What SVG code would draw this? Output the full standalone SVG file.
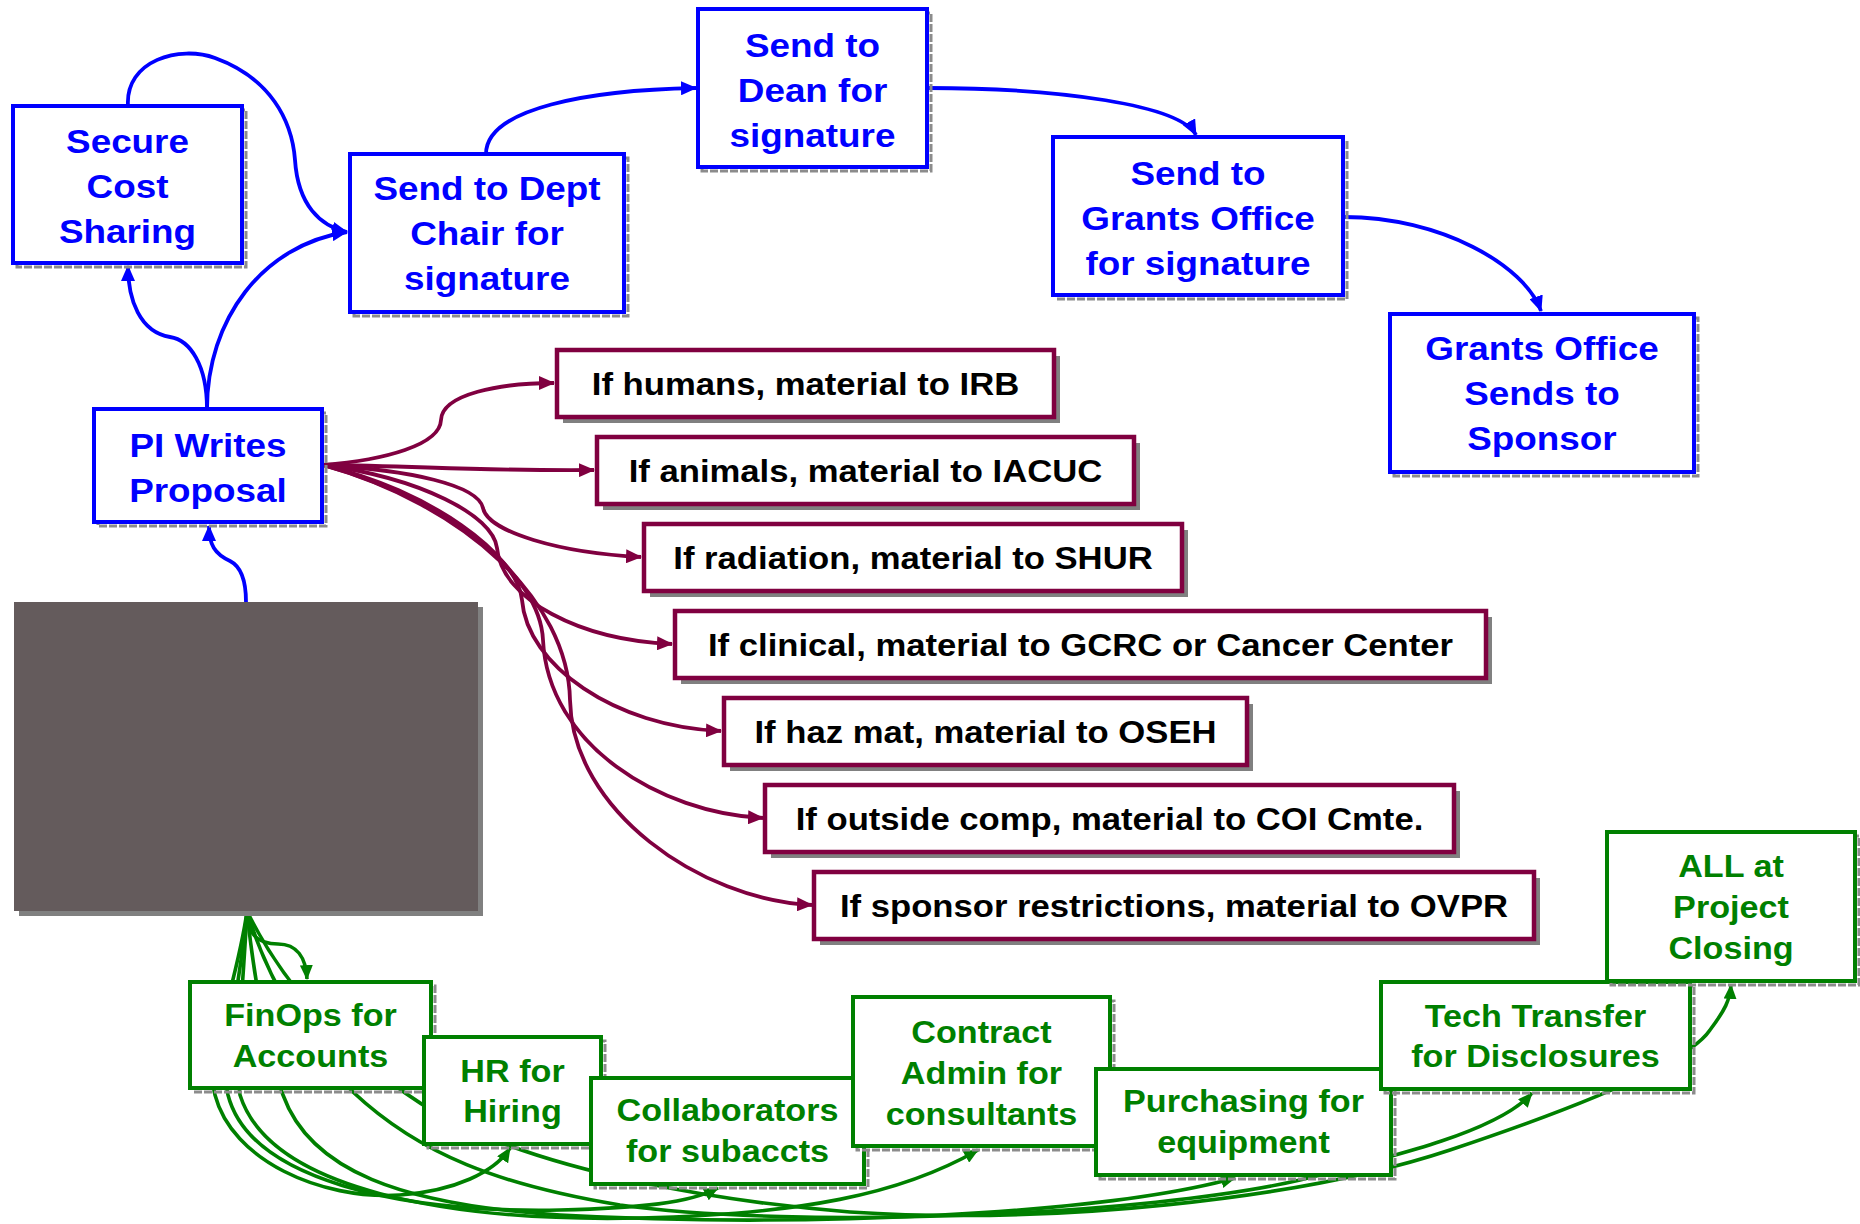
<svg xmlns="http://www.w3.org/2000/svg" width="1860" height="1224" viewBox="0 0 1860 1224">
<defs>
<style>
.bx{fill:#fff;stroke:#0000ff;stroke-width:4}
.mx{fill:#fff;stroke:#800040;stroke-width:4.5}
.gx{fill:#fff;stroke:#008000;stroke-width:4}
.sh{fill:none;stroke:#8c8c8c;stroke-width:3;stroke-dasharray:8 2}
.msh{fill:#808080}
.tb{font-family:"Liberation Sans",Arial,sans-serif;font-weight:bold;font-size:33.5px;fill:#0000ff;text-anchor:middle}
.tm{font-family:"Liberation Sans",Arial,sans-serif;font-weight:bold;font-size:31.5px;fill:#000;text-anchor:middle}
.tg{font-family:"Liberation Sans",Arial,sans-serif;font-weight:bold;font-size:30.5px;fill:#008000;text-anchor:middle}
.cb{fill:none;stroke:#0000ff;stroke-width:3.8;marker-end:url(#ab)}
.cm{fill:none;stroke:#800040;stroke-width:3.8;marker-end:url(#am)}
.cg{fill:none;stroke:#008000;stroke-width:3.6;marker-end:url(#ag)}
</style>
<marker id="ab" viewBox="0 0 16 14" refX="15" refY="7" markerWidth="16" markerHeight="14" markerUnits="userSpaceOnUse" orient="auto"><path d="M0,0 L16,7 L0,14 z" fill="#0000ff"/></marker>
<marker id="am" viewBox="0 0 16 14" refX="15" refY="7" markerWidth="16" markerHeight="14" markerUnits="userSpaceOnUse" orient="auto"><path d="M0,0 L16,7 L0,14 z" fill="#800040"/></marker>
<marker id="ag" viewBox="0 0 16 14" refX="15" refY="7" markerWidth="15" markerHeight="13" markerUnits="userSpaceOnUse" orient="auto"><path d="M0,0 L16,7 L0,14 z" fill="#008000"/></marker>
</defs>
<rect width="1860" height="1224" fill="#fff"/>

<g id="connectors">
<path class="cb" d="M207,409 C207,365 190,340 170,337 C140,332 128,300 128,266"/>
<path class="cb" d="M207,409 C207,320 262,245 347,232"/>
<path class="cb" d="M128,106 C125,60 180,45 215,58 C270,78 292,120 295,160 C298,205 320,226 347,232"/>
<path class="cb" d="M486,154 C486,108 590,90 696,88"/>
<path class="cb" d="M928,88 C1060,88 1180,105 1196,135"/>
<path class="cb" d="M1344,217 C1440,217 1525,265 1541,311"/>
<path class="cb" d="M246,602 C246,578 240,566 230,561 C215,554 209,545 209,526"/>
<path class="cm" d="M323,465 C385,460 440,445 441,420 C442,394 500,383 554,383"/>
<path class="cm" d="M323,465 C420,466 480,471 594,470"/>
<path class="cm" d="M323,465 C410,470 478,485 483,508 C488,532 560,553 641,557"/>
<path class="cm" d="M323,465 C420,478 493,515 497,548 C502,600 580,640 672,644"/>
<path class="cm" d="M323,465 C430,490 518,555 522,600 C527,665 615,727 721,731"/>
<path class="cm" d="M323,465 C450,500 540,575 543,640 C548,745 660,813 763,818"/>
<path class="cm" d="M323,465 C465,505 568,600 570,700 C572,810 700,900 812,905"/>
<path class="cg" d="M247,911 C247,935 258,944 278,944 C297,944 306,958 307,979"/>
<path class="cg" d="M247,911 C238,980 205,1060 215,1095 C232,1160 320,1200 400,1195 C455,1191 495,1172 510,1148"/>
<path class="cg" d="M247,911 C240,990 220,1060 228,1095 C250,1180 400,1213 560,1210 C640,1208 690,1203 718,1188"/>
<path class="cg" d="M247,911 C243,990 235,1060 240,1095 C270,1190 450,1222 640,1218 C800,1214 900,1195 978,1150"/>
<path class="cg" d="M247,911 C255,990 270,1060 283,1095 C310,1170 400,1205 560,1215 C800,1228 1100,1215 1235,1178"/>
<path class="cg" d="M247,911 C270,990 320,1060 353,1092 C420,1155 500,1185 620,1205 C800,1230 1150,1215 1300,1180 C1400,1155 1500,1130 1532,1093"/>
<path class="cg" d="M247,911 C290,1000 380,1090 470,1130 C560,1170 700,1200 850,1212 C1050,1225 1300,1200 1450,1150 C1600,1100 1690,1060 1710,1030 C1725,1010 1730,1000 1731,985"/>
</g>

<g id="node-secure">
<rect class="sh" x="17" y="110" width="229" height="157"/>
<rect class="bx" x="13" y="106" width="229" height="157"/>
<text class="tb" transform="translate(127.5 0) scale(1.1 1)"><tspan x="0" y="153">Secure</tspan><tspan x="0" y="198">Cost</tspan><tspan x="0" y="243">Sharing</tspan></text>
</g>
<g id="node-deptchair">
<rect class="sh" x="354" y="158" width="274" height="158"/>
<rect class="bx" x="350" y="154" width="274" height="158"/>
<text class="tb" transform="translate(487 0) scale(1.1 1)"><tspan x="0" y="200">Send to Dept</tspan><tspan x="0" y="245">Chair for</tspan><tspan x="0" y="290">signature</tspan></text>
</g>
<g id="node-dean">
<rect class="sh" x="702" y="13" width="229" height="158"/>
<rect class="bx" x="698" y="9" width="229" height="158"/>
<text class="tb" transform="translate(812.5 0) scale(1.1 1)"><tspan x="0" y="57">Send to</tspan><tspan x="0" y="102">Dean for</tspan><tspan x="0" y="147">signature</tspan></text>
</g>
<g id="node-grantssig">
<rect class="sh" x="1057" y="141" width="290" height="158"/>
<rect class="bx" x="1053" y="137" width="290" height="158"/>
<text class="tb" transform="translate(1198 0) scale(1.1 1)"><tspan x="0" y="185">Send to</tspan><tspan x="0" y="230">Grants Office</tspan><tspan x="0" y="275">for signature</tspan></text>
</g>
<g id="node-sponsor">
<rect class="sh" x="1394" y="318" width="304" height="158"/>
<rect class="bx" x="1390" y="314" width="304" height="158"/>
<text class="tb" transform="translate(1542 0) scale(1.1 1)"><tspan x="0" y="360">Grants Office</tspan><tspan x="0" y="405">Sends to</tspan><tspan x="0" y="450">Sponsor</tspan></text>
</g>
<g id="node-pi">
<rect class="sh" x="98" y="413" width="228" height="113"/>
<rect class="bx" x="94" y="409" width="228" height="113"/>
<text class="tb" transform="translate(208 0) scale(1.1 1)"><tspan x="0" y="457">PI Writes</tspan><tspan x="0" y="502">Proposal</tspan></text>
</g>
<g id="node-graybox">
<rect x="19" y="607" width="464" height="309" fill="#808080"/>
<rect x="14" y="602" width="464" height="309" fill="#645b5c"/>
</g>

<g id="node-irb">
<rect class="msh" x="563" y="356" width="497" height="67"/>
<rect class="mx" x="557" y="350" width="497" height="67"/>
<text class="tm" transform="translate(805.5 0) scale(1.1 1)" x="0" y="395">If humans, material to IRB</text>
</g>
<g id="node-iacuc">
<rect class="msh" x="603" y="443" width="537" height="67"/>
<rect class="mx" x="597" y="437" width="537" height="67"/>
<text class="tm" transform="translate(865.5 0) scale(1.1 1)" x="0" y="482">If animals, material to IACUC</text>
</g>
<g id="node-shur">
<rect class="msh" x="650" y="530" width="538" height="67"/>
<rect class="mx" x="644" y="524" width="538" height="67"/>
<text class="tm" transform="translate(913 0) scale(1.1 1)" x="0" y="569">If radiation, material to SHUR</text>
</g>
<g id="node-gcrc">
<rect class="msh" x="681" y="617" width="811" height="67"/>
<rect class="mx" x="675" y="611" width="811" height="67"/>
<text class="tm" transform="translate(1080.5 0) scale(1.1 1)" x="0" y="656">If clinical, material to GCRC or Cancer Center</text>
</g>
<g id="node-oseh">
<rect class="msh" x="730" y="704" width="523" height="67"/>
<rect class="mx" x="724" y="698" width="523" height="67"/>
<text class="tm" transform="translate(985.5 0) scale(1.1 1)" x="0" y="743">If haz mat, material to OSEH</text>
</g>
<g id="node-coi">
<rect class="msh" x="771" y="791" width="689" height="67"/>
<rect class="mx" x="765" y="785" width="689" height="67"/>
<text class="tm" transform="translate(1109.5 0) scale(1.1 1)" x="0" y="830">If outside comp, material to COI Cmte.</text>
</g>
<g id="node-ovpr">
<rect class="msh" x="820" y="878" width="720" height="67"/>
<rect class="mx" x="814" y="872" width="720" height="67"/>
<text class="tm" transform="translate(1174 0) scale(1.1 1)" x="0" y="917">If sponsor restrictions, material to OVPR</text>
</g>

<g id="node-finops">
<rect class="sh" x="194" y="986" width="241" height="106"/>
<rect class="gx" x="190" y="982" width="241" height="106"/>
<text class="tg" transform="translate(310.5 0) scale(1.12 1)"><tspan x="0" y="1026">FinOps for</tspan><tspan x="0" y="1067">Accounts</tspan></text>
</g>
<g id="node-hr">
<rect class="sh" x="428" y="1041" width="177" height="107"/>
<rect class="gx" x="424" y="1037" width="177" height="107"/>
<text class="tg" transform="translate(512.5 0) scale(1.12 1)"><tspan x="0" y="1082">HR for</tspan><tspan x="0" y="1122">Hiring</tspan></text>
</g>
<g id="node-collab">
<rect class="sh" x="595" y="1082" width="273" height="106"/>
<rect class="gx" x="591" y="1078" width="273" height="106"/>
<text class="tg" transform="translate(727.5 0) scale(1.12 1)"><tspan x="0" y="1121">Collaborators</tspan><tspan x="0" y="1162">for subaccts</tspan></text>
</g>
<g id="node-contract">
<rect class="sh" x="857" y="1001" width="257" height="149"/>
<rect class="gx" x="853" y="997" width="257" height="149"/>
<text class="tg" transform="translate(981.5 0) scale(1.12 1)"><tspan x="0" y="1043">Contract</tspan><tspan x="0" y="1084">Admin for</tspan><tspan x="0" y="1125">consultants</tspan></text>
</g>
<g id="node-purchasing">
<rect class="sh" x="1100" y="1073" width="295" height="106"/>
<rect class="gx" x="1096" y="1069" width="295" height="106"/>
<text class="tg" transform="translate(1243.5 0) scale(1.12 1)"><tspan x="0" y="1112">Purchasing for</tspan><tspan x="0" y="1153">equipment</tspan></text>
</g>
<g id="node-techtransfer">
<rect class="sh" x="1385" y="986" width="309" height="107"/>
<rect class="gx" x="1381" y="982" width="309" height="107"/>
<text class="tg" transform="translate(1535.5 0) scale(1.12 1)"><tspan x="0" y="1027">Tech Transfer</tspan><tspan x="0" y="1067">for Disclosures</tspan></text>
</g>
<g id="node-closing">
<rect class="sh" x="1611" y="836" width="248" height="149"/>
<rect class="gx" x="1607" y="832" width="248" height="149"/>
<text class="tg" transform="translate(1731 0) scale(1.12 1)"><tspan x="0" y="877">ALL at</tspan><tspan x="0" y="918">Project</tspan><tspan x="0" y="959">Closing</tspan></text>
</g>
</svg>
